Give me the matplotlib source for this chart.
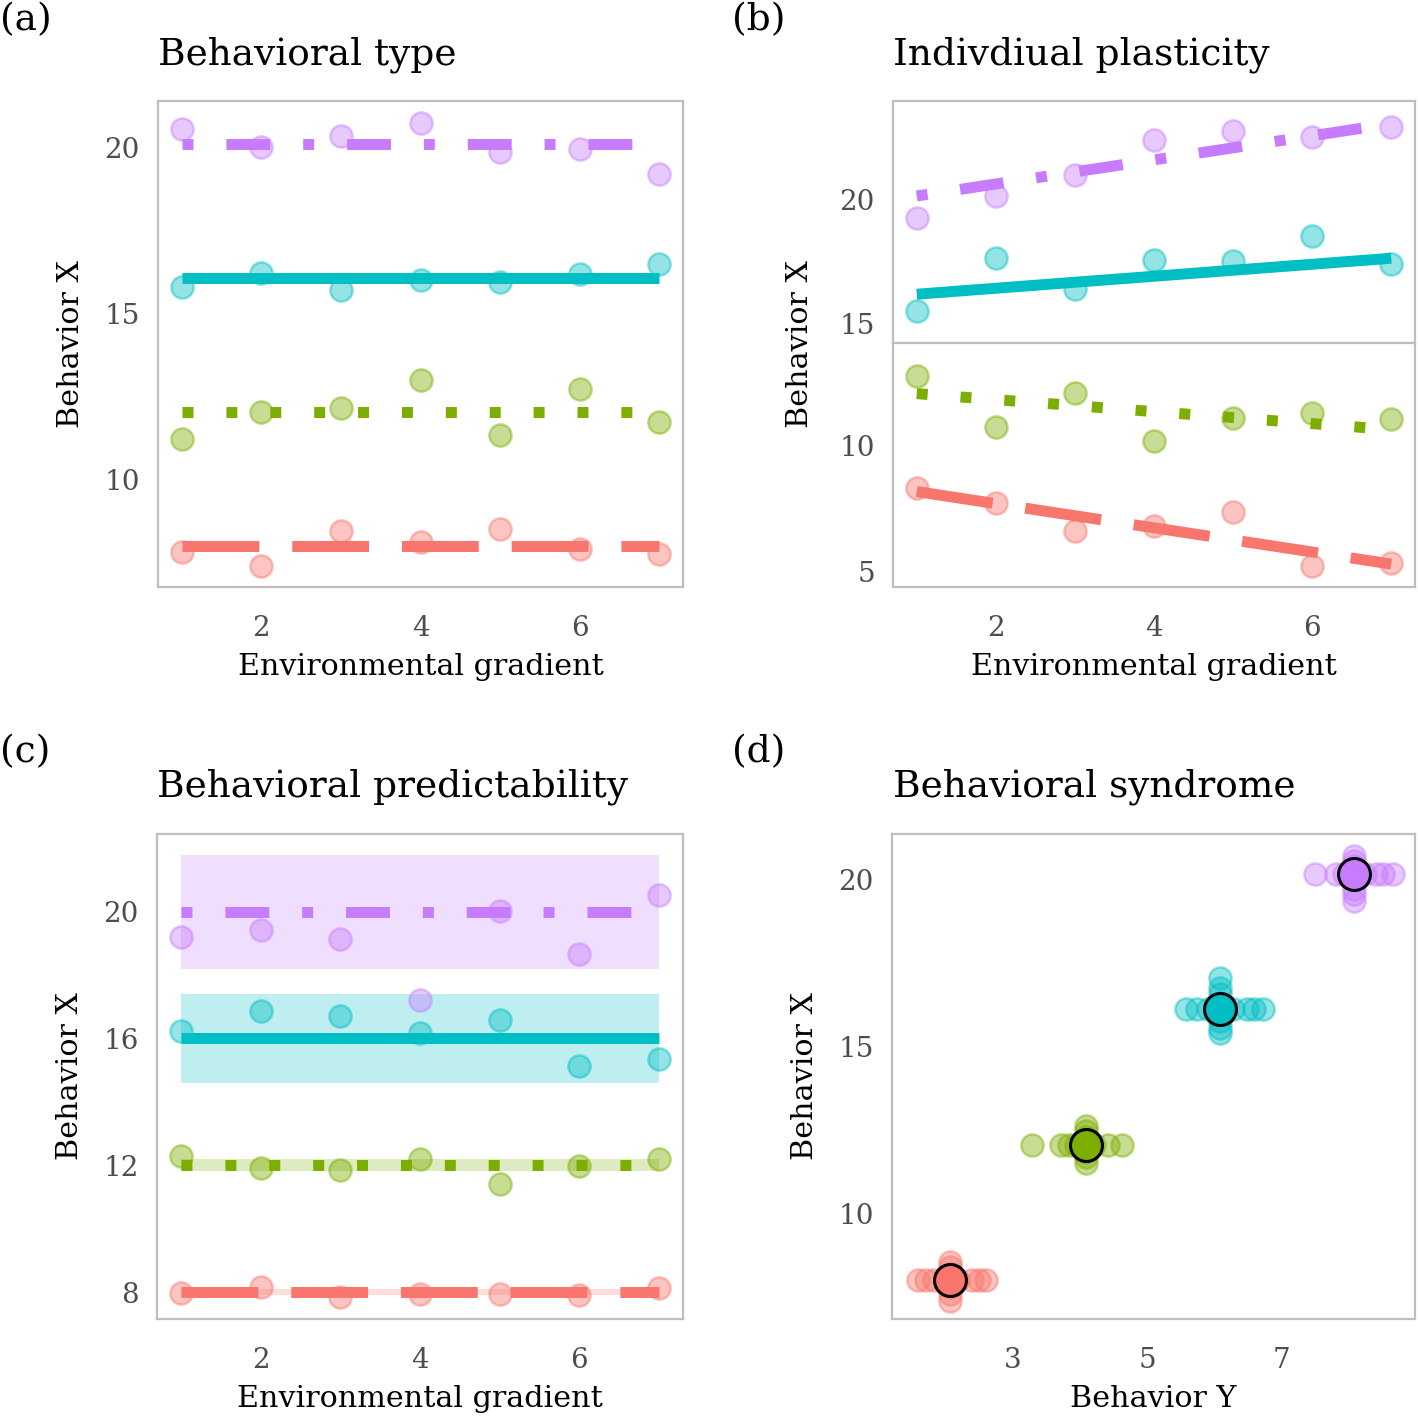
import matplotlib
matplotlib.use("Agg")
import matplotlib.pyplot as plt
import numpy as np

plt.rcParams['font.family'] = ['DejaVu Serif']

# ---------------- data ----------------
env = [1, 2, 3, 4, 5, 6, 7]
groups = ["red", "green", "teal", "purple"]
colors = {"red": "#F8766D", "green": "#7CAE00", "teal": "#00BFC4", "purple": "#C77CFF"}

# (a) Behavioral type
a_pts = {
    "purple": [20.56, 20.02, 20.34, 20.74, 19.87, 19.95, 19.20],
    "teal":   [15.81, 16.23, 15.72, 16.00, 15.96, 16.20, 16.48],
    "green":  [11.23, 12.03, 12.16, 13.01, 11.35, 12.74, 11.75],
    "red":    [7.84, 7.41, 8.47, 8.13, 8.53, 7.91, 7.77],
}
a_line = {"purple": 20.10, "teal": 16.06, "green": 12.03, "red": 8.01}

# (b) Individual plasticity
b_pts = {
    "purple": [19.24, 20.12, 20.96, 22.36, 22.71, 22.48, 22.87],
    "teal":   [15.53, 17.64, 16.39, 17.56, 17.52, 18.52, 17.39],
    "green":  [12.79, 10.77, 12.12, 10.19, 11.12, 11.32, 11.08],
    "red":    [8.32, 7.75, 6.64, 6.84, 7.39, 5.25, 5.34],
}
b_line_start = {"purple": 20.12, "teal": 16.19, "green": 12.08, "red": 8.19}
b_line_end = {"purple": 23.01, "teal": 17.63, "green": 10.65, "red": 5.31}

# (c) Behavioral predictability
c_pts = {
    "purple": [19.20, 19.42, 19.15, 17.21, 20.01, 18.67, 20.53],
    "teal":   [16.24, 16.88, 16.71, 16.16, 16.58, 15.13, 15.36],
    "green":  [12.29, 11.92, 11.86, 12.21, 11.42, 11.98, 12.19],
    "red":    [7.97, 8.16, 7.84, 7.95, 7.94, 7.91, 8.12],
}
c_line = {"purple": 20.0, "teal": 16.0, "green": 12.0, "red": 8.0}
c_band = {"purple": 1.80, "teal": 1.39, "green": 0.19, "red": 0.09}

# (d) Behavioral syndrome
d_mean_y = {"red": 2.06, "green": 4.08, "teal": 6.08, "purple": 8.08}
d_mean_x = {"red": 8.01, "green": 12.05, "teal": 16.10, "purple": 20.14}
d_yvals = {
    "red":    [1.58, 1.70, 1.83, 2.18, 2.39, 2.49, 2.60],
    "green":  [3.28, 3.72, 3.83, 3.93, 4.20, 4.41, 4.62],
    "teal":   [5.57, 5.74, 5.90, 6.27, 6.48, 6.59, 6.72],
    "purple": [7.49, 7.81, 7.92, 8.24, 8.40, 8.50, 8.65],
}
d_xvals = {
    "red":    [8.53, 8.38, 8.18, 7.95, 7.78, 7.58, 7.38],
    "green":  [12.62, 12.47, 12.27, 12.05, 11.82, 11.68, 11.50],
    "teal":   [17.05, 16.75, 16.55, 16.30, 15.75, 15.55, 15.38],
    "purple": [20.70, 20.55, 20.40, 20.10, 19.70, 19.55, 19.35],
}

linestyles = {
    "purple": (0, (1, 3, 4, 3)),
    "teal": "solid",
    "green": (0, (1, 3)),
    "red": (0, (7, 3)),
}

# ---------------- styling helpers ----------------
LW = 7.9
MS = 16
TICK_FS = 20
LABEL_FS = 21.7
TITLE_FS = 27
TAG_FS = 27
TICK_COLOR = "#4D4D4D"
BORDER = "#BEBEBE"


def style(ax):
    for s in ax.spines.values():
        s.set_color(BORDER)
        s.set_linewidth(1.6)
    ax.tick_params(length=0, labelsize=TICK_FS, labelcolor=TICK_COLOR)
    ax.tick_params(axis="x", pad=20)
    ax.tick_params(axis="y", pad=13)
    ax.set_facecolor("white")


def pts(ax, x, y, c):
    ax.plot(x, y, "o", ms=MS, mfc=matplotlib.colors.to_rgba(c, 0.42),
            mec=matplotlib.colors.to_rgba(c, 0.45), mew=1.8, ls="none", zorder=2)


fig = plt.figure(figsize=(14.18, 14.18), dpi=100)
W = 1418.0


def rect(l, r, t, b):
    return [l / W, 1 - b / W, (r - l) / W, (b - t) / W]


XLP = 8
YLP = 14

# ---------- (a) ----------
ax = fig.add_axes(rect(158, 683, 101, 587))
style(ax)
for g in groups:
    pts(ax, env, a_pts[g], colors[g])
    ax.plot([env[0], env[-1]], [a_line[g], a_line[g]], color=colors[g], lw=LW,
            ls=linestyles[g], solid_capstyle="butt", dash_capstyle="butt", zorder=3)
ax.set_xlim(0.7, 7.3)
ax.set_ylim(6.78, 21.39)
ax.set_xticks([2, 4, 6])
ax.set_yticks([10, 15, 20])
ax.set_xlabel("Environmental gradient", fontsize=LABEL_FS, labelpad=XLP)
ax.set_ylabel("Behavior X", fontsize=LABEL_FS, labelpad=YLP)
fig.text(158 / W, 1 - 55 / W, "Behavioral type", fontsize=TITLE_FS, va="center", ha="left")
fig.text(0 / W, 1 - 20 / W, "(a)", fontsize=TAG_FS, va="center", ha="left")

# ---------- (b) ----------
axt = fig.add_axes(rect(893, 1415, 101, 343))
axb = fig.add_axes(rect(893, 1415, 343, 587))
for a_ in (axt, axb):
    style(a_)
    a_.set_xlim(0.7, 7.3)
    a_.set_xticks([2, 4, 6])
for g in ["purple", "teal"]:
    pts(axt, env, b_pts[g], colors[g])
    axt.plot([env[0], env[-1]], [b_line_start[g], b_line_end[g]], color=colors[g], lw=LW,
             ls=linestyles[g], solid_capstyle="butt", dash_capstyle="butt", zorder=3)
for g in ["green", "red"]:
    pts(axb, env, b_pts[g], colors[g])
    axb.plot([env[0], env[-1]], [b_line_start[g], b_line_end[g]], color=colors[g], lw=LW,
             ls=linestyles[g], solid_capstyle="butt", dash_capstyle="butt", zorder=3)
axt.set_ylim(14.24, 23.92)
axt.set_yticks([15, 20])
axt.set_xticklabels([])
axb.set_ylim(4.40, 14.09)
axb.set_yticks([5, 10])
axb.set_xlabel("Environmental gradient", fontsize=LABEL_FS, labelpad=XLP)
fig.text(800 / W, 1 - 344 / W, "Behavior X", fontsize=LABEL_FS, rotation=90, va="center", ha="center")
fig.text(893 / W, 1 - 55 / W, "Indivdiual plasticity", fontsize=TITLE_FS, va="center", ha="left")
fig.text(732 / W, 1 - 20 / W, "(b)", fontsize=TAG_FS, va="center", ha="left")

# ---------- (c) ----------
ax = fig.add_axes(rect(157, 683, 834, 1319))
style(ax)
for g in groups:
    ax.fill_between([env[0], env[-1]], c_line[g] - c_band[g], c_line[g] + c_band[g],
                    color=colors[g], alpha=0.25, lw=0, zorder=1)
    pts(ax, env, c_pts[g], colors[g])
    ax.plot([env[0], env[-1]], [c_line[g], c_line[g]], color=colors[g], lw=LW,
            ls=linestyles[g], solid_capstyle="butt", dash_capstyle="butt", zorder=3)
ax.set_xlim(0.7, 7.3)
ax.set_ylim(7.15, 22.45)
ax.set_xticks([2, 4, 6])
ax.set_yticks([8, 12, 16, 20])
ax.set_xlabel("Environmental gradient", fontsize=LABEL_FS, labelpad=XLP)
ax.set_ylabel("Behavior X", fontsize=LABEL_FS, labelpad=YLP)
fig.text(157 / W, 1 - 787 / W, "Behavioral predictability", fontsize=TITLE_FS, va="center", ha="left")
fig.text(0 / W, 1 - 752 / W, "(c)", fontsize=TAG_FS, va="center", ha="left")

# ---------- (d) ----------
ax = fig.add_axes(rect(892, 1415, 834, 1319))
style(ax)
for g in groups:
    pts(ax, d_yvals[g], [d_mean_x[g]] * len(d_yvals[g]), colors[g])
    pts(ax, [d_mean_y[g]] * len(d_xvals[g]), d_xvals[g], colors[g])
for g in groups:
    ax.plot([d_mean_y[g]], [d_mean_x[g]], "o", ms=23, mfc=colors[g], mec="black", mew=2.2, zorder=4)
ax.set_xlim(1.2, 8.98)
ax.set_ylim(6.83, 21.35)
ax.set_xticks([3, 5, 7])
ax.set_yticks([10, 15, 20])
ax.set_xlabel("Behavior Y", fontsize=LABEL_FS, labelpad=XLP)
ax.set_ylabel("Behavior X", fontsize=LABEL_FS, labelpad=YLP)
fig.text(893 / W, 1 - 787 / W, "Behavioral syndrome", fontsize=TITLE_FS, va="center", ha="left")
fig.text(732 / W, 1 - 752 / W, "(d)", fontsize=TAG_FS, va="center", ha="left")

fig.savefig("out.png", dpi=100, facecolor="white")
